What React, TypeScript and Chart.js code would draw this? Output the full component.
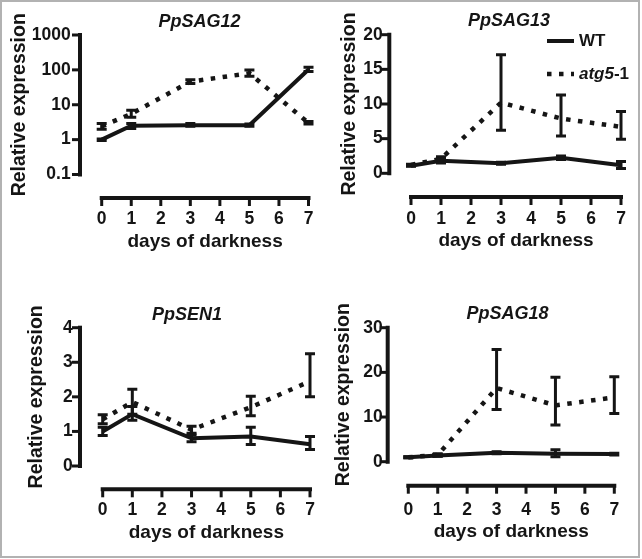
import React, { useEffect, useRef } from "react";
import { Chart, registerables } from "chart.js";

Chart.register(...registerables);

const FONT = "'Liberation Sans', Arial, Helvetica, sans-serif";
const INK = "#151515";

// ---------- data ----------
const days = [0, 1, 3, 5, 7];
const xTickValues = [0, 1, 2, 3, 4, 5, 6, 7];
const seriesNames = ["WT", "atg5-1"];
const xTitle = "days of darkness";
const yTitle = "Relative expression";

// PpSAG12 (log scale)
const sag12Ticks = [0.1, 1, 10, 100, 1000];
const sag12Wt = [1.0, 2.5, 2.6, 2.6, 102];
const sag12WtLow = [0.95, 2.1, 2.4, 2.4, 90];
const sag12WtHigh = [1.05, 2.9, 2.9, 2.8, 118];
const sag12Atg = [2.4, 5.5, 46, 80, 3.0];
const sag12AtgLow = [2.0, 4.4, 41, 66, 2.8];
const sag12AtgHigh = [2.9, 7.0, 52, 100, 3.3];

// PpSAG13
const sag13Ticks = [0, 5, 10, 15, 20];
const sag13Wt = [1.1, 1.8, 1.45, 2.25, 1.15];
const sag13WtLow = [1.0, 1.5, 1.3, 2.0, 0.7];
const sag13WtHigh = [1.2, 2.1, 1.6, 2.5, 1.7];
const sag13Atg = [1.2, 2.1, 10.2, 7.9, 6.7];
const sag13AtgLow = [1.1, 1.8, 6.2, 5.4, 4.9];
const sag13AtgHigh = [1.3, 2.4, 17.1, 11.3, 8.9];

// PpSEN1
const sen1Ticks = [0, 1, 2, 3, 4];
const sen1Wt = [1.0, 1.5, 0.8, 0.85, 0.63];
const sen1WtLow = [0.88, 1.32, 0.7, 0.62, 0.48];
const sen1WtHigh = [1.12, 1.72, 0.9, 1.12, 0.85];
const sen1Atg = [1.35, 1.85, 1.05, 1.7, 2.45];
const sen1AtgLow = [1.22, 1.5, 0.95, 1.45, 2.0];
const sen1AtgHigh = [1.48, 2.22, 1.15, 2.02, 3.25];

// PpSAG18
const sag18Ticks = [0, 10, 20, 30];
const sag18Wt = [1.0, 1.4, 2.0, 1.8, 1.7];
const sag18WtLow = [0.9, 1.2, 1.8, 1.1, 1.5];
const sag18WtHigh = [1.1, 1.6, 2.2, 2.7, 1.9];
const sag18Atg = [1.0, 1.5, 16.5, 12.6, 14.4];
const sag18AtgLow = [0.9, 1.3, 11.7, 8.2, 10.8];
const sag18AtgHigh = [1.1, 1.8, 25.1, 18.9, 19.0];

// ---------- layout specs (pixels within each panel canvas) ----------
const panels = [
  {
    key: "p1", title: "PpSAG12", log: true, ticks: sag12Ticks,
    wt: sag12Wt, wtLow: sag12WtLow, wtHigh: sag12WtHigh,
    atg: sag12Atg, atgLow: sag12AtgLow, atgHigh: sag12AtgHigh,
    left: 0, top: 0, w: 321, h: 260,
    x0: 101.7, x7: 308.5, yTop: 35, yBot: 174.5, yAxisX: 80, xAxisY: 198,
    titleX: 199.5, titleY: 22, yLabelPad: 31, yTitleCx: 20.1, xLabelCy: 219, xTitleCy: 241.3,
    legend: false,
  },
  {
    key: "p2", title: "PpSAG13", log: false, ticks: sag13Ticks,
    wt: sag13Wt, wtLow: sag13WtLow, wtHigh: sag13WtHigh,
    atg: sag13Atg, atgLow: sag13AtgLow, atgHigh: sag13AtgHigh,
    left: 321, top: 0, w: 321, h: 260,
    x0: 90, x7: 300, yTop: 34.7, yBot: 173.3, yAxisX: 68.3, xAxisY: 197,
    titleX: 188, titleY: 21, yLabelPad: 28.3, yTitleCx: 28.9, xLabelCy: 218.7, xTitleCy: 240.5,
    legend: true,
  },
  {
    key: "p3", title: "PpSEN1", log: false, ticks: sen1Ticks,
    wt: sen1Wt, wtLow: sen1WtLow, wtHigh: sen1WtHigh,
    atg: sen1Atg, atgLow: sen1AtgLow, atgHigh: sen1AtgHigh,
    left: 0, top: 260, w: 321, h: 299,
    x0: 102.7, x7: 310, yTop: 67.7, yBot: 206, yAxisX: 80, xAxisY: 229.3,
    titleX: 187, titleY: 55, yLabelPad: 30, yTitleCx: 36.5, xLabelCy: 250, xTitleCy: 272.6,
    legend: false,
  },
  {
    key: "p4", title: "PpSAG18", log: false, ticks: sag18Ticks,
    wt: sag18Wt, wtLow: sag18WtLow, wtHigh: sag18WtHigh,
    atg: sag18Atg, atgLow: sag18AtgLow, atgHigh: sag18AtgHigh,
    left: 321, top: 260, w: 321, h: 299,
    x0: 87.3, x7: 293.3, yTop: 67.7, yBot: 201.7, yAxisX: 66.7, xAxisY: 225.7,
    titleX: 186.5, titleY: 54, yLabelPad: 25.6, yTitleCx: 22.7, xLabelCy: 250, xTitleCy: 272,
    legend: false,
  },
];

const LEGEND = { x1: 226, x2: 253, yWt: 41, yAtg: 74, textX: 258 };
const DASH = [4.5, 7.5];

const TICK_SIZE = 17.5;
const TITLE_SIZE = 18;
const X_TITLE_SIZE = 19;
const Y_TITLE_SIZE = 19.5;
const CLEAR = "rgba(0,0,0,0)";

const prismPlugin = {
  id: "prism",
  afterDatasetsDraw(chart: any) {
    const ctx = chart.ctx;
    const xs = chart.scales.x;
    const ys = chart.scales.y;
    ctx.save();
    ctx.strokeStyle = INK;
    ctx.lineWidth = 3;
    ctx.setLineDash([]);
    chart.data.datasets.forEach((ds: any) => {
      ds.data.forEach((pt: any, i: number) => {
        const px = xs.getPixelForValue(pt.x);
        const lo = ys.getPixelForValue(ds.errLow[i]);
        const hi = ys.getPixelForValue(ds.errHigh[i]);
        ctx.beginPath();
        ctx.moveTo(px, lo);
        ctx.lineTo(px, hi);
        ctx.moveTo(px - 5, lo);
        ctx.lineTo(px + 5, lo);
        ctx.moveTo(px - 5, hi);
        ctx.lineTo(px + 5, hi);
        ctx.stroke();
      });
    });
    ctx.restore();
  },
  afterDraw(chart: any, _a: any, opts: any) {
    const ctx = chart.ctx;
    const xs = chart.scales.x;
    const ys = chart.scales.y;
    ctx.save();
    ctx.strokeStyle = INK;
    ctx.lineCap = "butt";
    ctx.setLineDash([]);
    // y axis
    const yPx = ys.ticks.map((t: any) => ys.getPixelForValue(t.value));
    const top = Math.min(...yPx);
    const bot = Math.max(...yPx);
    const ax = opts.yAxisX;
    ctx.lineWidth = 4;
    ctx.beginPath();
    ctx.moveTo(ax, top - 2);
    ctx.lineTo(ax, bot + 2);
    ctx.stroke();
    ctx.lineWidth = 3;
    yPx.forEach((p: number) => {
      ctx.beginPath();
      ctx.moveTo(ax - 8, p);
      ctx.lineTo(ax, p);
      ctx.stroke();
    });
    // x axis
    const xPx = xs.ticks.map((t: any) => xs.getPixelForValue(t.value));
    const l = Math.min(...xPx);
    const r = Math.max(...xPx);
    const ay = opts.xAxisY;
    ctx.lineWidth = 4;
    ctx.beginPath();
    ctx.moveTo(l - 2, ay);
    ctx.lineTo(r + 2, ay);
    ctx.stroke();
    ctx.lineWidth = 3;
    xPx.forEach((p: number) => {
      ctx.beginPath();
      ctx.moveTo(p, ay);
      ctx.lineTo(p, ay + 8);
      ctx.stroke();
    });
    // panel title
    ctx.fillStyle = INK;
    ctx.textBaseline = "middle";
    ctx.textAlign = "center";
    ctx.font = `italic bold ${TITLE_SIZE}px ${FONT}`;
    ctx.fillText(opts.title, opts.titleX, opts.titleY);
    // legend
    if (opts.legend) {
      const L = LEGEND;
      const wtDs = chart.data.datasets.find((d: any) => d.label === seriesNames[0]);
      const atgDs = chart.data.datasets.find((d: any) => d.label === seriesNames[1]);
      ctx.lineWidth = wtDs.borderWidth;
      ctx.beginPath();
      ctx.moveTo(L.x1, L.yWt);
      ctx.lineTo(L.x2, L.yWt);
      ctx.stroke();
      ctx.setLineDash(atgDs.borderDash);
      ctx.lineWidth = atgDs.borderWidth;
      ctx.beginPath();
      ctx.moveTo(L.x1, L.yAtg);
      ctx.lineTo(L.x2, L.yAtg);
      ctx.stroke();
      ctx.setLineDash([]);
      ctx.textAlign = "left";
      ctx.font = `bold 17px ${FONT}`;
      ctx.fillText(wtDs.label, L.textX, L.yWt);
      const name = String(atgDs.label);
      const cut = name.indexOf("-");
      const it = cut >= 0 ? name.slice(0, cut) : name;
      const rest = cut >= 0 ? name.slice(cut) : "";
      ctx.font = `italic bold 17px ${FONT}`;
      ctx.fillText(it, L.textX, L.yAtg);
      const w = ctx.measureText(it).width;
      ctx.font = `bold 17px ${FONT}`;
      ctx.fillText(rest, L.textX + w, L.yAtg);
    }
    ctx.restore();
  },
};

function buildConfig(p: any): any {
  const tickLH = TICK_SIZE * 1.2;
  const xLH = X_TITLE_SIZE * 1.2;
  const yLH = Y_TITLE_SIZE * 1.2;
  const yMin = p.ticks[0];
  const yMax = p.ticks[p.ticks.length - 1];
  const mk = (vals: number[]) => days.map((d, i) => ({ x: d, y: vals[i] }));
  return {
    type: "line",
    data: {
      datasets: [
        {
          label: seriesNames[1],
          data: mk(p.atg),
          errLow: p.atgLow,
          errHigh: p.atgHigh,
          borderColor: INK,
          backgroundColor: INK,
          borderWidth: 4.5,
          borderDash: DASH,
          borderCapStyle: "butt",
          pointRadius: 0,
          tension: 0,
          fill: false,
          clip: false,
        },
        {
          label: seriesNames[0],
          data: mk(p.wt),
          errLow: p.wtLow,
          errHigh: p.wtHigh,
          borderColor: INK,
          backgroundColor: INK,
          borderWidth: 4,
          pointRadius: 0,
          tension: 0,
          fill: false,
          clip: false,
        },
      ],
    },
    options: {
      responsive: false,
      animation: false,
      devicePixelRatio: 1,
      layout: { padding: { left: 0, top: p.yTop, bottom: 0, right: p.w - p.x7 } },
      events: [],
      plugins: {
        legend: { display: false },
        tooltip: { enabled: false },
        title: { display: false },
        prism: {
          yAxisX: p.yAxisX,
          xAxisY: p.xAxisY,
          legend: p.legend,
          title: p.title,
          titleX: p.titleX,
          titleY: p.titleY,
        },
      },
      scales: {
        x: {
          type: "linear",
          min: 0,
          max: 7,
          afterBuildTicks: (s: any) => {
            s.ticks = xTickValues.map((v) => ({ value: v }));
          },
          afterFit: (s: any) => {
            s.height = p.h - p.yBot;
          },
          grid: {
            display: true,
            drawOnChartArea: false,
            drawTicks: true,
            tickLength: p.xLabelCy - p.yBot - tickLH / 2,
            color: CLEAR,
            tickColor: CLEAR,
          },
          border: { display: false },
          ticks: {
            autoSkip: false,
            maxRotation: 0,
            padding: 0,
            color: INK,
            font: { family: FONT, size: TICK_SIZE, weight: "bold", lineHeight: 1.2 },
            callback: (v: any) => String(v),
          },
          title: {
            display: true,
            text: xTitle,
            color: INK,
            font: { family: FONT, size: X_TITLE_SIZE, weight: "bold", lineHeight: 1.2 },
            padding: { top: 0, bottom: p.h - p.xTitleCy - xLH / 2 },
          },
        },
        y: {
          type: p.log ? "logarithmic" : "linear",
          min: yMin,
          max: yMax,
          afterBuildTicks: (s: any) => {
            s.ticks = p.ticks.map((v: number) => ({ value: v }));
          },
          afterFit: (s: any) => {
            s.width = p.x0;
          },
          grid: {
            display: true,
            drawOnChartArea: false,
            drawTicks: true,
            tickLength: p.yLabelPad,
            color: CLEAR,
            tickColor: CLEAR,
          },
          border: { display: false },
          ticks: {
            padding: 0,
            color: INK,
            font: { family: FONT, size: TICK_SIZE, weight: "bold", lineHeight: 1.2 },
            callback: (v: any) => String(v),
          },
          title: {
            display: true,
            text: yTitle,
            color: INK,
            font: { family: FONT, size: Y_TITLE_SIZE, weight: "bold", lineHeight: 1.2 },
            padding: { top: p.yTitleCx - yLH / 2, bottom: 0 },
          },
        },
      },
    },
    plugins: [prismPlugin],
  };
}

function Panel({ spec }: { spec: any }) {
  const ref = useRef<HTMLCanvasElement>(null);
  useEffect(() => {
    if (!ref.current) return;
    const chart = new Chart(ref.current, buildConfig(spec));
    return () => chart.destroy();
  }, [spec]);
  return (
    <canvas
      ref={ref}
      width={spec.w}
      height={spec.h}
      style={{ position: "absolute", left: spec.left, top: spec.top, width: spec.w, height: spec.h }}
    />
  );
}

export default function App() {
  return (
    <div
      style={{
        position: "fixed",
        left: 0,
        top: 0,
        width: 642,
        height: 559,
        background: "#ffffff",
        overflow: "hidden",
      }}
    >
      {panels.map((p) => (
        <Panel key={p.key} spec={p} />
      ))}
      <div
        style={{
          position: "absolute",
          left: 0,
          top: 0,
          width: 640,
          height: 558,
          boxSizing: "border-box",
          border: "2px solid #b2b2b2",
          pointerEvents: "none",
        }}
      />
    </div>
  );
}
